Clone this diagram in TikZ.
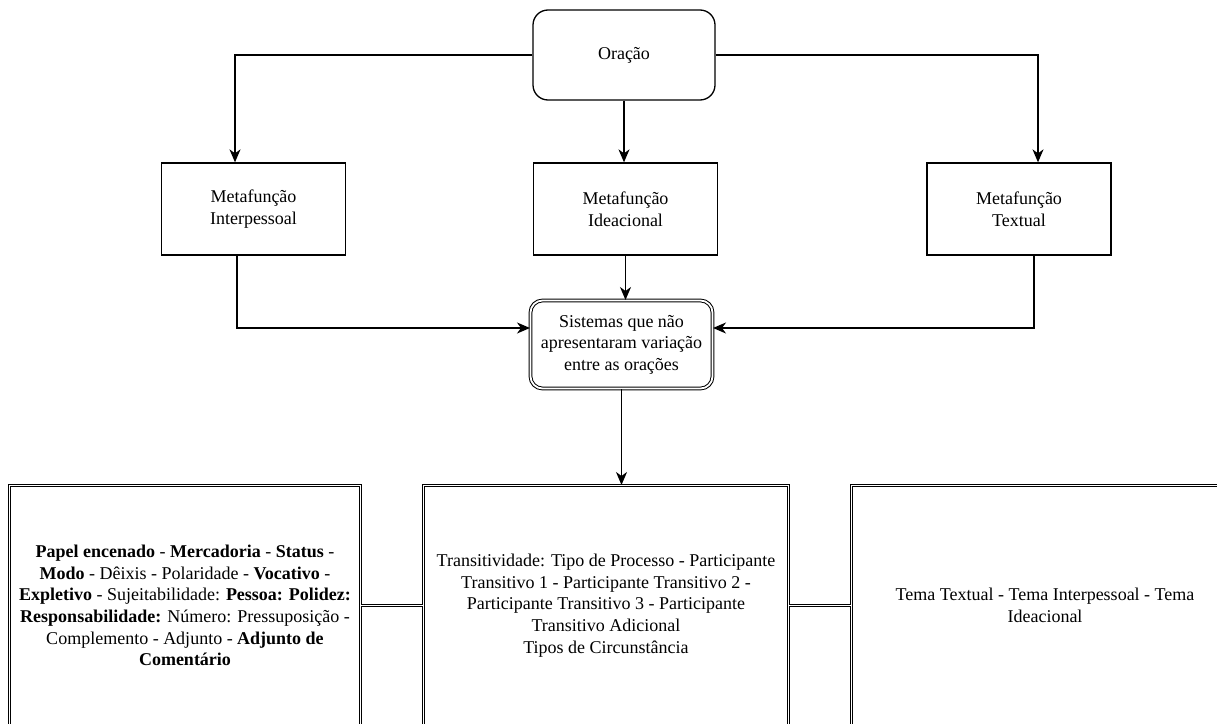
\documentclass[tikz,border=0pt]{standalone}
\usepackage{fontspec}
\setmainfont{Liberation Serif}
\usetikzlibrary{arrows.meta}
\begin{document}
\begin{tikzpicture}[x=1bp,y=-1bp,
  every node/.style={font=\fontsize{18bp}{21.6bp}\selectfont, text=black, inner sep=0pt, align=center},
  conn/.style={line width=1.3bp, draw=black},
  arr/.style={conn, -{Stealth[length=13bp,width=11bp,inset=4bp]}},
  dconn/.style={draw=black, line width=1bp, double=white, double distance=1.8bp},
  mbox/.style={draw=black, line width=1.3bp, minimum width=184bp, minimum height=92bp},
  rootbox/.style={mbox, rounded corners=15bp, minimum width=182bp, minimum height=90bp},
  sysbox/.style={draw=black, line width=1bp, double=white, double distance=1.8bp,
                 rounded corners=12bp, minimum width=182bp, minimum height=88bp},
  listbox/.style={draw=black, line width=1bp, double=white, double distance=1.8bp,
                  minimum height=240bp}
]
\useasboundingbox (0,0) rectangle (1217,724);
\clip (0,0) rectangle (1217,724);

% top of the hierarchy
\node[rootbox] (orac) at (624,55) {Oração};

% the three metafunctions
\node[mbox] (inter) at (253.5,209) {Metafunção\\Interpessoal};
\node[mbox] (idea)  at (625.5,209) {Metafunção\\Ideacional};
\node[mbox] (textu) at (1019,209)  {Metafunção\\Textual};

% systems without variation
\node[sysbox] (sist) at (621.5,344.5) {Sistemas que não\\apresentaram variação\\entre as orações};

% lists of systems
\node[listbox, minimum width=351bp] (lst1) at (185,605.5)
  {\textbf{Papel encenado} - \textbf{Mercadoria} - \textbf{Status} -\\
   \textbf{Modo} - Dêixis - Polaridade - \textbf{Vocativo} -\\
   \textbf{Expletivo} - Sujeitabilidade: \textbf{Pessoa: Polidez:}\\
   \textbf{Responsabilidade:} Número: Pressuposição -\\
   Complemento - Adjunto - \textbf{Adjunto de}\\
   \textbf{Comentário}};
\node[listbox, minimum width=365bp] (lst2) at (606,605.5)
  {Transitividade: Tipo de Processo - Participante\\
   Transitivo 1 - Participante Transitivo 2 -\\
   Participante Transitivo 3 - Participante\\
   Transitivo Adicional\\
   Tipos de Circunstância};
\node[listbox, minimum width=387bp] (lst3) at (1045,605.5)
  {Tema Textual - Tema Interpessoal - Tema\\Ideacional};

% connectors
\draw[arr] (orac.west) -| ([xshift=-18.5bp]inter.north);
\draw[arr] (orac.east) -| ([xshift=19bp]textu.north);
\draw[arr] (orac.south) -- (orac.south |- idea.north);

\draw[arr] ([xshift=-16.5bp]inter.south) |- ([yshift=16.5bp]sist.west);
\draw[arr] ([xshift=15bp]textu.south) |- ([yshift=16.5bp]sist.east);
\draw[arr] (idea.south) -- (idea.south |- sist.north);

\draw[arr] (sist.south) -- (sist.south |- lst2.north);

\draw[dconn] (lst1.east) -- (lst2.west);
\draw[dconn] (lst2.east) -- (lst3.west);
\end{tikzpicture}
\end{document}
